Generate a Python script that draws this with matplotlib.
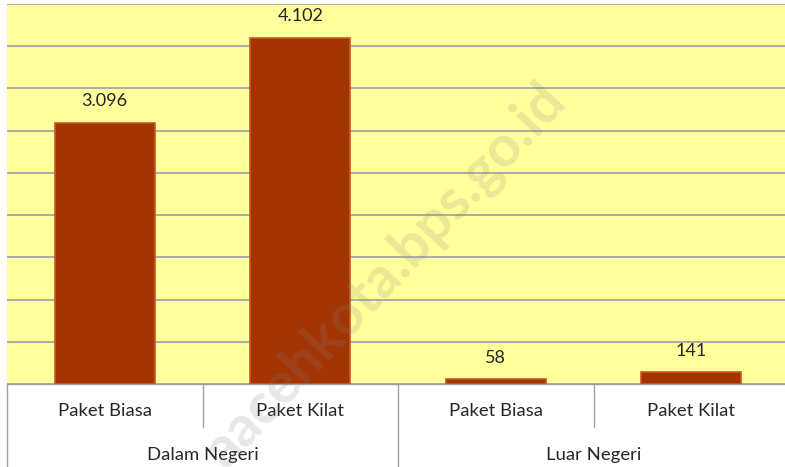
import matplotlib.pyplot as plt

groups = ['Dalam Negeri', 'Luar Negeri']
categories = ['Paket Biasa', 'Paket Kilat', 'Paket Biasa', 'Paket Kilat']
values = [3096, 4102, 58, 141]
value_labels = ['3.096', '4.102', '58', '141']

plt.rcParams['font.family'] = ['Lato', 'DejaVu Sans']

fig = plt.figure(figsize=(7.85, 4.67), dpi=100)
ax = fig.add_axes([7 / 785, 83 / 467, 782 / 785, 380 / 467])
ax.set_facecolor('#FFFF9C')

x = list(range(len(categories)))
ax.bar(x, values, width=0.51, color='#A33403', edgecolor='#C9581F', linewidth=1.2, zorder=3)

for xi, v, lab in zip(x, values, value_labels):
    ax.annotate(lab, (xi, v), xytext=(0, 15.5), textcoords='offset points',
                ha='center', va='center', fontsize=13, color='#262626', zorder=4)

ax.set_xlim(-0.5, 3.5)
ax.set_ylim(0, 4500)
ax.set_yticks(range(0, 4501, 500))
ax.yaxis.grid(True, color='#A6A6A6', linewidth=1.3, zorder=0)
ax.tick_params(left=False, bottom=False, labelleft=False, labelbottom=False)
for s in ax.spines.values():
    s.set_visible(False)

# category table below the axis
tr = ax.get_xaxis_transform()
line_kw = dict(color='#A0A0A0', linewidth=1, clip_on=False, transform=tr)
ax.plot([-0.5, 3.5], [0, 0], **line_kw)
for b in [-0.5, 1.5, 3.5]:
    ax.plot([b, b], [0, -0.23], **line_kw)
for b in [0.5, 2.5]:
    ax.plot([b, b], [0, -0.113], **line_kw)
for xi, c in zip(x, categories):
    ax.text(xi, -0.071, c, transform=tr, ha='center', va='center', fontsize=13.3, color='#262626')
for gi, g in enumerate(groups):
    ax.text(gi * 2 + 0.5, -0.187, g, transform=tr, ha='center', va='center', fontsize=13.3, color='#262626')

# watermark
fig.text(0.49, 0.41, 'aacehkota.bps.go.id', rotation=47, ha='center', va='center',
         fontsize=41, fontweight='bold', color='#808080', alpha=0.18, zorder=10)

fig.savefig('out.png', dpi=100)
